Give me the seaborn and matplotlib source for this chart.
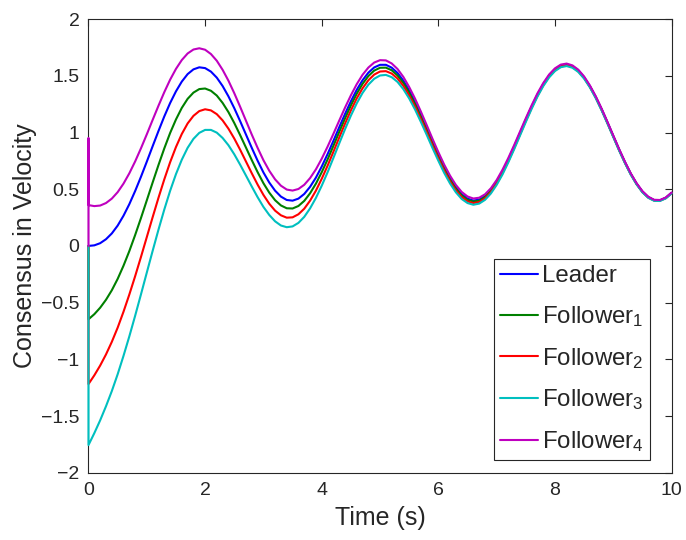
import matplotlib
matplotlib.use("Agg")
import matplotlib.pyplot as plt
import seaborn as sns
import pandas as pd

# ---------------- data ----------------
time = [0.0, 0.1, 0.2, 0.3, 0.4, 0.5, 0.6, 0.7, 0.8, 0.9,
        1.0, 1.1, 1.2, 1.3, 1.4, 1.5, 1.6, 1.7, 1.8, 1.9,
        2.0, 2.1, 2.2, 2.3, 2.4, 2.5, 2.6, 2.7, 2.8, 2.9,
        3.0, 3.1, 3.2, 3.3, 3.4, 3.5, 3.6, 3.7, 3.8, 3.9,
        4.0, 4.1, 4.2, 4.3, 4.4, 4.5, 4.6, 4.7, 4.8, 4.9,
        5.0, 5.1, 5.2, 5.3, 5.4, 5.5, 5.6, 5.7, 5.8, 5.9,
        6.0, 6.1, 6.2, 6.3, 6.4, 6.5, 6.6, 6.7, 6.8, 6.9,
        7.0, 7.1, 7.2, 7.3, 7.4, 7.5, 7.6, 7.7, 7.8, 7.9,
        8.0, 8.1, 8.2, 8.3, 8.4, 8.5, 8.6, 8.7, 8.8, 8.9,
        9.0, 9.1, 9.2, 9.3, 9.4, 9.5, 9.6, 9.7, 9.8, 9.9,
        10.0]

leader = [0.000, 0.005, 0.024, 0.059, 0.110, 0.179, 0.266, 0.368, 0.484, 0.610,
          0.743, 0.879, 1.013, 1.142, 1.260, 1.363, 1.449, 1.515, 1.557, 1.575,
          1.568, 1.537, 1.484, 1.410, 1.319, 1.215, 1.101, 0.983, 0.865, 0.752,
          0.648, 0.559, 0.487, 0.435, 0.405, 0.399, 0.417, 0.458, 0.521, 0.602,
          0.700, 0.809, 0.926, 1.046, 1.164, 1.275, 1.376, 1.461, 1.528, 1.574,
          1.597, 1.597, 1.572, 1.525, 1.457, 1.370, 1.269, 1.157, 1.039, 0.919,
          0.803, 0.694, 0.598, 0.517, 0.456, 0.417, 0.400, 0.408, 0.439, 0.493,
          0.567, 0.658, 0.763, 0.877, 0.996, 1.115, 1.230, 1.336, 1.428, 1.503,
          1.558, 1.591, 1.600, 1.585, 1.547, 1.487, 1.408, 1.313, 1.205, 1.089,
          0.969, 0.850, 0.738, 0.636, 0.549, 0.479, 0.430, 0.404, 0.402, 0.424,
          0.468]

follower1 = [-0.647, -0.602, -0.545, -0.475, -0.391, -0.291, -0.175, -0.046, 0.096, 0.246,
             0.402, 0.559, 0.713, 0.860, 0.996, 1.115, 1.217, 1.297, 1.352, 1.383,
             1.388, 1.368, 1.326, 1.261, 1.180, 1.084, 0.978, 0.868, 0.757, 0.651,
             0.553, 0.470, 0.403, 0.357, 0.332, 0.330, 0.352, 0.397, 0.464, 0.549,
             0.650, 0.762, 0.882, 1.005, 1.125, 1.239, 1.342, 1.429, 1.498, 1.546,
             1.571, 1.572, 1.549, 1.503, 1.437, 1.351, 1.251, 1.140, 1.023, 0.904,
             0.789, 0.681, 0.586, 0.506, 0.445, 0.407, 0.391, 0.399, 0.431, 0.485,
             0.560, 0.651, 0.757, 0.871, 0.990, 1.110, 1.225, 1.331, 1.424, 1.499,
             1.554, 1.587, 1.597, 1.582, 1.544, 1.484, 1.405, 1.311, 1.203, 1.087,
             0.967, 0.848, 0.736, 0.634, 0.547, 0.477, 0.429, 0.403, 0.401, 0.423,
             0.467]

follower2 = [-1.218, -1.141, -1.055, -0.957, -0.846, -0.721, -0.581, -0.429, -0.267, -0.097,
             0.078, 0.253, 0.424, 0.587, 0.738, 0.872, 0.987, 1.080, 1.147, 1.189,
             1.205, 1.195, 1.162, 1.107, 1.034, 0.947, 0.849, 0.745, 0.641, 0.541,
             0.450, 0.372, 0.311, 0.270, 0.249, 0.252, 0.279, 0.328, 0.399, 0.487,
             0.592, 0.707, 0.830, 0.956, 1.079, 1.195, 1.301, 1.390, 1.461, 1.511,
             1.538, 1.541, 1.520, 1.476, 1.411, 1.326, 1.228, 1.118, 1.003, 0.885,
             0.771, 0.664, 0.569, 0.490, 0.431, 0.393, 0.378, 0.387, 0.419, 0.474,
             0.549, 0.641, 0.747, 0.862, 0.982, 1.102, 1.218, 1.324, 1.417, 1.493,
             1.548, 1.582, 1.592, 1.577, 1.539, 1.480, 1.401, 1.307, 1.199, 1.083,
             0.964, 0.845, 0.733, 0.632, 0.545, 0.475, 0.426, 0.400, 0.399, 0.421,
             0.465]

follower3 = [-1.756, -1.651, -1.538, -1.414, -1.280, -1.132, -0.970, -0.798, -0.616, -0.427,
             -0.235, -0.044, 0.143, 0.321, 0.486, 0.633, 0.760, 0.865, 0.944, 0.997,
             1.023, 1.023, 0.999, 0.952, 0.888, 0.808, 0.717, 0.621, 0.524, 0.430,
             0.344, 0.273, 0.217, 0.180, 0.165, 0.172, 0.203, 0.256, 0.331, 0.423,
             0.531, 0.649, 0.776, 0.904, 1.030, 1.149, 1.257, 1.349, 1.422, 1.474,
             1.503, 1.508, 1.488, 1.446, 1.382, 1.300, 1.203, 1.094, 0.980, 0.863,
             0.751, 0.644, 0.551, 0.473, 0.414, 0.378, 0.363, 0.373, 0.406, 0.462,
             0.538, 0.630, 0.737, 0.852, 0.973, 1.093, 1.209, 1.317, 1.410, 1.486,
             1.542, 1.576, 1.586, 1.571, 1.534, 1.475, 1.397, 1.302, 1.195, 1.079,
             0.960, 0.841, 0.730, 0.628, 0.542, 0.472, 0.424, 0.398, 0.396, 0.419,
             0.463]

follower4 = [0.360, 0.351, 0.356, 0.378, 0.417, 0.474, 0.549, 0.640, 0.745, 0.861,
             0.984, 1.111, 1.236, 1.356, 1.466, 1.561, 1.639, 1.697, 1.732, 1.743,
             1.730, 1.692, 1.633, 1.553, 1.457, 1.347, 1.228, 1.105, 0.982, 0.865,
             0.756, 0.663, 0.587, 0.531, 0.497, 0.488, 0.502, 0.539, 0.598, 0.675,
             0.769, 0.875, 0.988, 1.105, 1.220, 1.328, 1.426, 1.509, 1.573, 1.617,
             1.638, 1.636, 1.609, 1.560, 1.490, 1.401, 1.299, 1.185, 1.066, 0.944,
             0.827, 0.717, 0.620, 0.538, 0.476, 0.436, 0.418, 0.425, 0.455, 0.508,
             0.581, 0.672, 0.776, 0.889, 1.008, 1.126, 1.240, 1.346, 1.437, 1.512,
             1.566, 1.599, 1.608, 1.592, 1.554, 1.494, 1.414, 1.319, 1.211, 1.094,
             0.974, 0.855, 0.743, 0.640, 0.553, 0.483, 0.434, 0.407, 0.405, 0.427,
             0.471]

# initial values at t = 0 before the jump
follower1_start = [0.0]
follower2_start = [0.0]
follower3_start = [0.0]
follower4_start = [0.0, 0.95]

series_names = ["Leader", "Follower1", "Follower2", "Follower3", "Follower4"]
legend_labels = ["Leader", r"Follower$_1$", r"Follower$_2$", r"Follower$_3$", r"Follower$_4$"]
colors = ["#0000FF", "#008000", "#FF0000", "#00BFBF", "#BF00BF"]

x_ticks = [0, 2, 4, 6, 8, 10]
y_ticks = [-2, -1.5, -1, -0.5, 0, 0.5, 1, 1.5, 2]
y_tick_labels = ["\u22122", "\u22121.5", "\u22121", "\u22120.5", "0", "0.5", "1", "1.5", "2"]

# ---------------- build long-form table ----------------
rows = []
starts = [[], follower1_start, follower2_start, follower3_start, follower4_start]
values = [leader, follower1, follower2, follower3, follower4]
for name, st, vals in zip(series_names, starts, values):
    ts = [0.0] * len(st) + time
    vs = st + vals
    for t, v in zip(ts, vs):
        rows.append({"t": t, "v": v, "series": name})
df = pd.DataFrame(rows)

# ---------------- plot ----------------
sns.set_theme(style="white")
plt.rcParams["font.family"] = ["Liberation Sans", "DejaVu Sans"]
plt.rcParams["mathtext.fontset"] = "custom"
plt.rcParams["mathtext.rm"] = "Liberation Sans"
plt.rcParams["mathtext.it"] = "Liberation Sans"
plt.rcParams["mathtext.default"] = "regular"

fig = plt.figure(figsize=(6.86, 5.40), dpi=100)
ax = fig.add_axes([0.129, 0.1246, 0.850, 0.840])

sns.lineplot(data=df, x="t", y="v", hue="series", hue_order=series_names,
             palette=dict(zip(series_names, colors)), estimator=None,
             sort=False, linewidth=1.5, legend=False, ax=ax)
for ln in ax.lines:
    ln.set_clip_on(False)
    ln.set_zorder(3)

ax.set_xlim(0, 10)
ax.set_ylim(-2, 2)
ax.set_xticks(x_ticks)
ax.set_xticklabels([str(x) for x in x_ticks])
ax.set_yticks(y_ticks)
ax.set_yticklabels(y_tick_labels)

dark = (0.15, 0.15, 0.15)
for sp in ax.spines.values():
    sp.set_visible(True)
    sp.set_color(dark)
    sp.set_linewidth(0.8)
ax.tick_params(direction="in", top=True, right=True, length=5, width=0.8,
               color=dark, labelcolor=dark, labelsize=14, pad=6.5)

ax.set_xlabel("Time (s)", fontsize=18, color=dark, labelpad=5)
ax.set_ylabel("Consensus in Velocity", fontsize=18, color=dark, labelpad=3)

leg = ax.legend(ax.lines[:5], legend_labels, loc="lower right",
                bbox_to_anchor=(0.963, 0.028), borderaxespad=0,
                fontsize=17.3, frameon=True, fancybox=False,
                framealpha=1, edgecolor=dark, handlelength=1.58,
                handletextpad=0.18, labelspacing=0.7, borderpad=0.25)
leg.get_frame().set_linewidth(0.8)
leg.set_zorder(5)

fig.savefig("out.png", dpi=100)
